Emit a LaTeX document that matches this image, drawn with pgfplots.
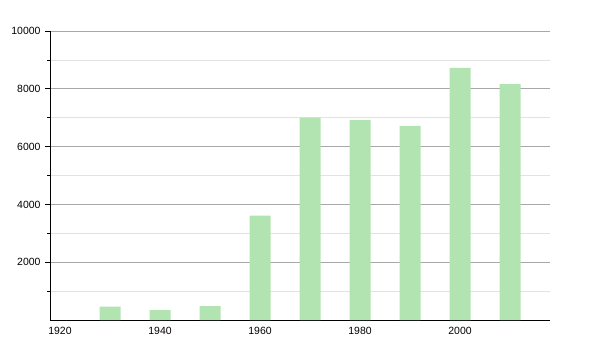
\documentclass[border=0pt]{standalone}
\usepackage{fontspec}
\setmainfont{Liberation Sans}
\usepackage{pgfplots}
\pgfplotsset{compat=1.18}
\definecolor{barg}{RGB}{178,228,178}
\definecolor{gmaj}{RGB}{168,168,168}
\definecolor{gmin}{RGB}{226,226,226}
\begin{document}
\begin{tikzpicture}[x=1bp,y=1bp]
\path[use as bounding box] (0,0) rectangle (600,350);
\begin{axis}[
  at={(50bp,30bp)}, anchor=origin, 
  scale only axis, width=500bp, height=289bp,
  xmin=1918, xmax=2018, ymin=0, ymax=10000,
  axis x line*=bottom, axis y line*=left,
  axis line style={black, line width=0.8pt},
  xtick={1920,1940,1960,1980,2000},
  ytick={2000,4000,6000,8000,10000},
  minor ytick={1000,3000,5000,7000,9000},
  scaled y ticks=false,
  /pgf/number format/.cd, set thousands separator={}, assume math mode=true, /pgfplots/.cd,
  ymajorgrids, yminorgrids,
  major grid style={gmaj, line width=0.6pt},
  minor grid style={gmin, line width=0.6pt},
  tick align=outside,
  major tick length=5bp, minor tick length=3bp,
  xtick style={draw=none},
  ytick style={black, line width=0.6pt},
  tick label style={font=\fontsize{10.5}{12}\selectfont},
  xticklabel style={yshift=1bp},
  yticklabel style={xshift=-1bp},
  clip=false,
]
\addplot[ybar, bar width=4.2, fill=barg, draw=none] coordinates {
(1930,460) (1940,346) (1950,484) (1960,3609) (1970,7000) (1980,6920) (1990,6713) (2000,8720) (2010,8166)
};
\end{axis}
\end{tikzpicture}
\end{document}
